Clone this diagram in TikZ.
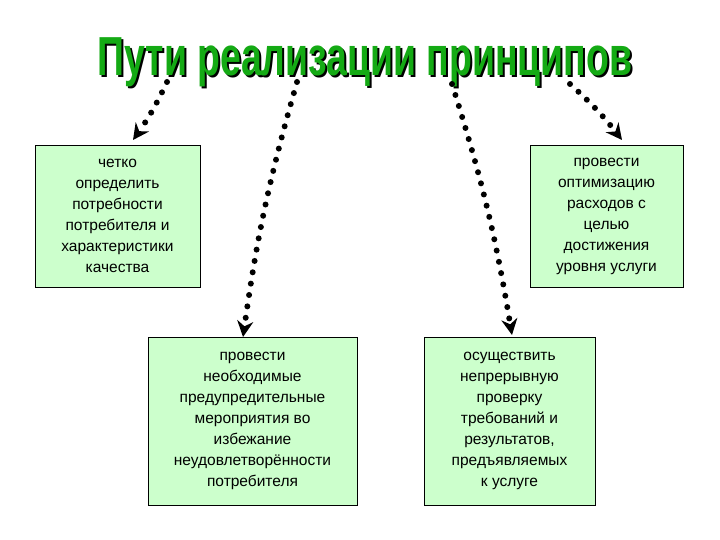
\documentclass[tikz,border=0pt]{standalone}
\usepackage{fontspec}
\setmainfont{Liberation Sans}
\usetikzlibrary{arrows.meta}
\definecolor{boxg}{RGB}{204,255,204}
\definecolor{titg}{RGB}{20,170,20}
\newcommand{\ttltext}{\scalebox{0.85}[1.25]{\fontsize{44}{44}\bfseries Пути реализации принципов}}
\tikzset{
 tbox/.style={draw=black, line width=0.8pt, fill=boxg, align=center, font=\fontsize{15.5}{21}\selectfont, inner sep=0pt},
 dots/.style={line width=6pt, dash pattern=on 0pt off 11.5pt, line cap=round, -{Stealth[length=16pt,width=16pt,line cap=butt]}}
}
\begin{document}
\begin{tikzpicture}[x=1pt,y=-1pt]
\useasboundingbox (0,0) rectangle (720,540);
\node[tbox, minimum width=165pt, minimum height=142pt] (b1) at (117.5,216) {четко\\определить\\потребности\\потребителя и\\характеристики\\качества};
\node[tbox, minimum width=153pt, minimum height=142pt] (b2) at (606.5,216) {провести\\оптимизацию\\расходов с\\целью\\достижения\\уровня услуги};
\node[tbox, minimum width=209pt, minimum height=168pt] (b3) at (252.5,421) {провести\\необходимые\\предупредительные\\мероприятия во\\избежание\\неудовлетворённости\\потребителя};
\node[tbox, minimum width=171pt, minimum height=168pt] (b4) at (509.5,421) {осуществить\\непрерывную\\проверку\\требований и\\результатов,\\предъявляемых\\к услуге};
\node (title) at (365,63) {\rlap{\kern2pt\raisebox{-2pt}{\color{black}\ttltext}}{\color{titg}\ttltext}};
\coordinate (s1) at (167,82); \coordinate (e1) at (133,140);
\coordinate (s2) at (297,82); \coordinate (e2) at (243,337);
\coordinate (s3) at (452,84); \coordinate (e3) at (512,335);
\coordinate (s4) at (570,84); \coordinate (e4) at (622,140);
\draw[dots] (s1) to[bend left=5] (e1);
\draw[dots] (s2) to[bend right=4] (e2);
\draw[dots] (s3) to[bend left=4] (e3);
\draw[dots] (s4) to[bend left=5] (e4);
\end{tikzpicture}
\end{document}
